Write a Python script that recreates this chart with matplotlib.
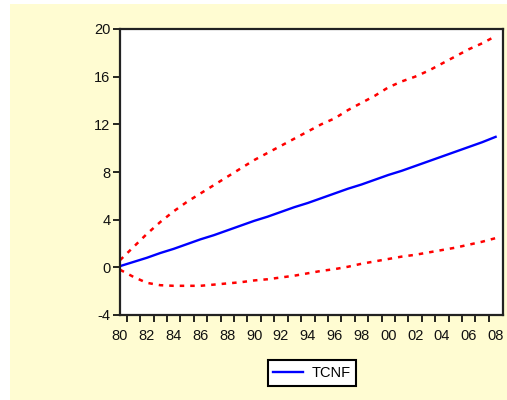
import matplotlib
matplotlib.use("Agg")
import matplotlib.pyplot as plt
from matplotlib.patches import Rectangle
from matplotlib.ticker import FixedLocator

years = list(range(1980, 2009))
tcnf = [0.1, 0.45, 0.8, 1.2, 1.55, 1.95, 2.35, 2.7, 3.1, 3.5, 3.9, 4.25, 4.65, 5.05,
        5.4, 5.8, 6.2, 6.6, 6.95, 7.35, 7.75, 8.1, 8.5, 8.9, 9.3, 9.7, 10.1, 10.5, 10.95]
upper = [0.6, 1.7, 2.8, 3.8, 4.7, 5.5, 6.2, 6.9, 7.6, 8.3, 9.0, 9.6, 10.2, 10.8,
         11.4, 12.0, 12.5, 13.2, 13.8, 14.4, 15.1, 15.6, 16.0, 16.5, 17.1, 17.7, 18.3, 18.8, 19.4]
lower = [-0.2, -0.8, -1.3, -1.5, -1.55, -1.55, -1.55, -1.45, -1.35, -1.25, -1.1, -1.0, -0.85, -0.7,
         -0.5, -0.3, -0.15, 0.05, 0.3, 0.5, 0.7, 0.9, 1.05, 1.25, 1.45, 1.65, 1.9, 2.15, 2.45]
yticks = [-4, 0, 4, 8, 12, 16, 20]
xlabel_years = list(range(1980, 2009, 2))
xlabels = ["80", "82", "84", "86", "88", "90", "92", "94", "96", "98",
           "00", "02", "04", "06", "08"]

W, H = 507, 400
fig = plt.figure(figsize=(W / 100, H / 100), dpi=100, facecolor="white")
fig.patches.append(Rectangle((10 / W, 0), 1 - 10 / W, 1 - 4 / H, transform=fig.transFigure,
                             facecolor="#FFFCD2", edgecolor="none", zorder=-10))

ax = fig.add_axes([120 / W, 1 - 315 / H, (503 - 120) / W, (315 - 29) / H])
ax.set_zorder(1)
ax.set_facecolor("white")
ax.plot(years, upper, color="red", lw=1.8, linestyle=(0, (1.8, 2.4)))
ax.plot(years, lower, color="red", lw=1.8, linestyle=(0, (1.8, 2.4)))
ax.plot(years, tcnf, color="blue", lw=1.7, label="TCNF")

ax.set_xlim(1980, 2008.55)
ax.set_ylim(-4, 20)
ax.set_yticks(yticks)
ax.set_yticklabels([str(v) for v in yticks])
ax.set_xticks(xlabel_years)
ax.set_xticklabels(xlabels)
ax.xaxis.set_minor_locator(FixedLocator([y + 0.5 for y in years[:-1]]))
ax.tick_params(axis="x", which="major", length=0, pad=10)
ax.tick_params(axis="x", which="minor", length=5, width=1.2, direction="out")
ax.tick_params(axis="y", length=5, width=1.2, direction="out", pad=2)
for lab in ax.get_xticklabels() + ax.get_yticklabels():
    lab.set_fontfamily("Liberation Sans")
    lab.set_fontsize(10.5)
    lab.set_color("#111111")
for s in ax.spines.values():
    s.set_linewidth(1.6)
    s.set_color("#222222")

leg = fig.legend(loc="center", bbox_to_anchor=(312 / W, 1 - 373 / H), frameon=True,
                 fancybox=False, edgecolor="black", facecolor="white", framealpha=1,
                 handlelength=2.0, handletextpad=0.6, borderpad=0.4,
                 prop={"family": "Liberation Sans", "size": 10.5})
leg.get_frame().set_linewidth(1.5)
leg.set_zorder(2)

fig.savefig("out.png", dpi=100, facecolor=fig.get_facecolor())
